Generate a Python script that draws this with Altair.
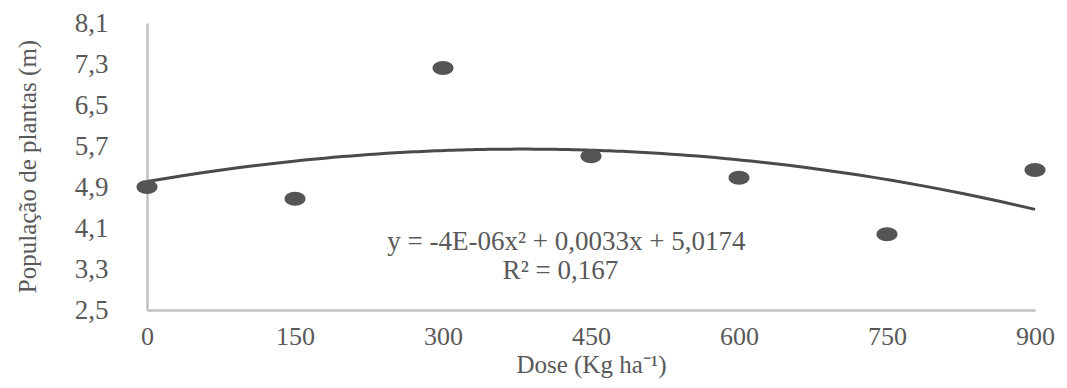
import altair as alt
import pandas as pd

# Data
doses = [0, 150, 300, 450, 600, 750, 900]
populacao = [4.90, 4.67, 7.22, 5.50, 5.08, 3.98, 5.23]

x_ticks = [0, 150, 300, 450, 600, 750, 900]
y_ticks = [2.5, 3.3, 4.1, 4.9, 5.7, 6.5, 7.3, 8.1]

ann_text = ["y = -4E-06x\u00b2 + 0,0033x + 5,0174", "R\u00b2 = 0,167"]
ann_x = [425, 419]
ann_y = [3.67, 3.10]

df = pd.DataFrame({"dose": doses, "pop": populacao})
ann = pd.DataFrame({"x": ann_x, "y": ann_y, "t": ann_text})

FONT = "Liberation Serif"
TXT = "#595959"

xs = alt.Scale(domain=[0, 900], nice=False, zero=False)
ys = alt.Scale(domain=[2.5, 8.1], nice=False, zero=False)

x_axis = alt.Axis(
    values=x_ticks, title="Dose (Kg ha\u207b\u00b9)", grid=False, ticks=False,
    domainColor="#c0c0c0", domainWidth=2.5, labelFlush=False,
    labelFont=FONT, labelFontSize=26, labelColor=TXT, labelPadding=13,
    titleFont=FONT, titleFontSize=25, titleColor=TXT, titleFontWeight="normal",
    titleY=62, titleBaseline="alphabetic",
)
y_axis = alt.Axis(
    values=y_ticks, title="Popula\u00e7\u00e3o de plantas (m)", grid=False, ticks=False,
    domainColor="#c0c0c0", domainWidth=2.5, labelFlush=False,
    labelFont=FONT, labelFontSize=27, labelColor=TXT, labelPadding=39,
    labelExpr="replace(format(datum.value, '.1f'), '.', ',')",
    titleFont=FONT, titleFontSize=25, titleColor=TXT, titleFontWeight="normal",
    titleX=-120, titleY=143, titleBaseline="middle", titleAlign="center",
)

ellipse = "M -1 0 A 1 0.667 0 1 1 1 0 A 1 0.667 0 1 1 -1 0 Z"

points = alt.Chart(df).mark_point(
    shape=ellipse, filled=True, size=441, color="#555555", opacity=1, strokeWidth=0
).encode(
    x=alt.X("dose:Q", scale=xs, axis=x_axis),
    y=alt.Y("pop:Q", scale=ys, axis=y_axis),
)

trend = alt.Chart(df).transform_regression(
    "dose", "pop", method="poly", order=2, extent=[0, 900]
).mark_line(color="#4a4a4a", strokeWidth=3).encode(
    x=alt.X("dose:Q", scale=xs),
    y=alt.Y("pop:Q", scale=ys),
)

labels = alt.Chart(ann).mark_text(
    font=FONT, fontSize=27, color=TXT, align="center", baseline="alphabetic"
).encode(
    x=alt.X("x:Q", scale=xs),
    y=alt.Y("y:Q", scale=ys),
    text="t:N",
)

chart = alt.layer(trend, points, labels).properties(
    width=888, height=287,
    autosize=alt.AutoSizeParams(type="none"),
    padding={"left": 139, "top": 15, "right": 24, "bottom": 70},
    background="white",
).configure_view(stroke=None)

chart.save("out.html", embed_options={"renderer": "svg", "actions": False})
